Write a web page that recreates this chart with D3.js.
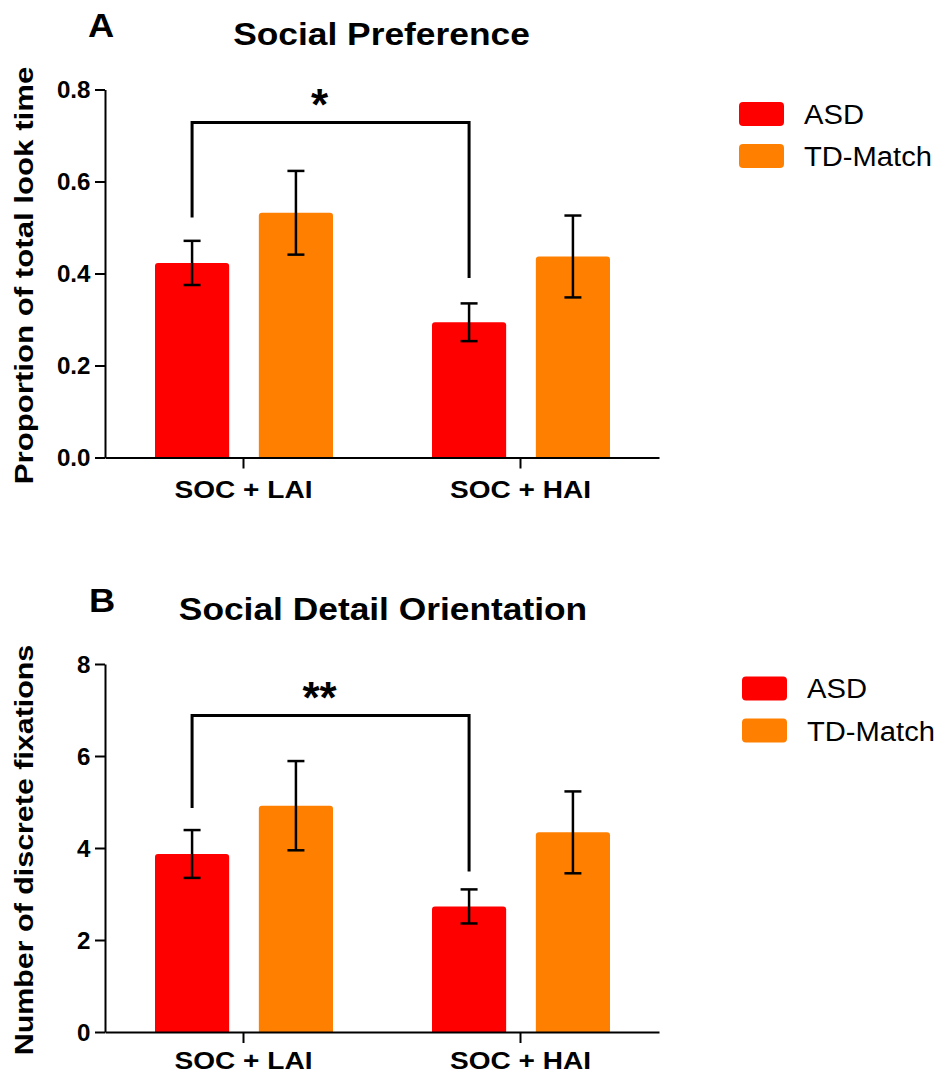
<!DOCTYPE html>
<html>
<head>
<meta charset="utf-8">
<script src="https://cdn.jsdelivr.net/npm/d3@7"></script>
<style>
  body { margin: 0; background: #fff; }
  text { font-family: "Liberation Sans", Arial, sans-serif; fill: #000; }
</style>
</head>
<body>
<script>
// Groups and categories (same for both panels)
const categories = ['SOC + LAI', 'SOC + HAI'];
const groups = ['ASD', 'TD-Match'];
const groupColors = ['#ff0000', '#ff8000'];

// Panel A: proportion of total look time (mean, SEM)
const prefASD = [0.423, 0.294];
const prefTD = [0.532, 0.437];
const prefASDErr = [0.048, 0.041];
const prefTDErr = [0.091, 0.089];
const prefTicks = [0, 0.2, 0.4, 0.6, 0.8];
// bracket: level, left leg end, right leg end
const prefBracket = [0.728, 0.522, 0.39];

// Panel B: number of discrete fixations (mean, SEM)
const fixASD = [3.87, 2.73];
const fixTD = [4.92, 4.34];
const fixASDErr = [0.52, 0.37];
const fixTDErr = [0.97, 0.89];
const fixTicks = [0, 2, 4, 6, 8];
const fixBracket = [6.88, 4.87, 3.49];

const W = 940, H = 1078;
const svg = d3.select('body').append('svg')
    .attr('width', W)
    .attr('height', H);

// text with a horizontal stretch (the source font is wider than Arial)
function label(g, str, x, y, size, weight, sx, anchor, rot) {
    return g.append('text')
        .attr('transform', `translate(${x},${y})` + (rot ? ` rotate(${rot})` : '') + ` scale(${sx},1)`)
        .attr('text-anchor', anchor || 'middle')
        .style('font-size', size + 'px')
        .style('font-weight', weight)
        .text(str);
}

function panel(p) {
    const g = svg.append('g').attr('transform', `translate(0,${p.dy})`);

    const x = d3.scaleBand().domain(categories).range([105, 659]);
    const xi = d3.scaleBand().domain(groups).range([50, 228]).paddingInner(0.286);
    const y = d3.scaleLinear().domain([0, p.max]).range([457.5, 89.5]);

    const means = [p.asd, p.td];
    const errs = [p.asdErr, p.tdErr];
    const bars = categories.flatMap((c, i) => groups.map((s, j) => ({
        cat: c, grp: s, j: j, v: means[j][i], e: errs[j][i]
    })));

    // bars
    g.selectAll('rect.bar')
        .data(bars)
        .join('rect')
        .attr('class', 'bar')
        .attr('x', d => x(d.cat) + xi(d.grp))
        .attr('y', d => y(d.v))
        .attr('width', xi.bandwidth())
        .attr('height', d => y(0) - y(d.v) + 3)
        .attr('rx', 3)
        .attr('fill', d => groupColors[d.j]);

    // white out the rounded bottom below the axis
    g.append('rect')
        .attr('x', 106).attr('y', y(0) + 1)
        .attr('width', 560).attr('height', 6)
        .attr('fill', '#fff');

    // error bars
    const cx = d => x(d.cat) + xi(d.grp) + xi.bandwidth() / 2;
    const eb = g.selectAll('g.err')
        .data(bars)
        .join('g')
        .attr('class', 'err')
        .attr('stroke', '#000')
        .attr('stroke-width', 2.5);
    eb.append('line')
        .attr('x1', cx).attr('x2', cx)
        .attr('y1', d => y(d.v + d.e)).attr('y2', d => y(d.v - d.e));
    eb.append('line')
        .attr('x1', d => cx(d) - 8.5).attr('x2', d => cx(d) + 8.5)
        .attr('y1', d => y(d.v + d.e)).attr('y2', d => y(d.v + d.e));
    eb.append('line')
        .attr('x1', d => cx(d) - 8.5).attr('x2', d => cx(d) + 8.5)
        .attr('y1', d => y(d.v - d.e)).attr('y2', d => y(d.v - d.e));

    // y axis
    const ya = g.append('g')
        .attr('transform', 'translate(105,0)')
        .call(d3.axisLeft(y).tickValues(p.ticks).tickFormat(p.fmt).tickSize(10).tickSizeOuter(0));
    ya.selectAll('path, line').attr('stroke', '#000').attr('stroke-width', 2);
    ya.selectAll('text')
        .attr('x', null).attr('dy', '0.36em')
        .attr('transform', 'translate(-14.5,0) scale(1.05,1)')
        .style('font-size', '23px')
        .style('font-weight', 'bold')
        .style('font-family', '"Liberation Sans", Arial, sans-serif');

    // x axis
    const xa = g.append('g')
        .attr('transform', `translate(0,${y(0)})`)
        .call(d3.axisBottom(x).tickSize(11).tickSizeOuter(0));
    xa.selectAll('path, line').attr('stroke', '#000').attr('stroke-width', 2);
    xa.selectAll('text')
        .attr('y', null).attr('dy', null)
        .attr('transform', `translate(0,${p.catY}) scale(1.22,1)`)
        .style('font-size', '23px')
        .style('font-weight', 'bold')
        .style('font-family', '"Liberation Sans", Arial, sans-serif');

    // significance bracket between the two ASD bars
    const bl = x(categories[0]) + xi(groups[0]) + xi.bandwidth() / 2;
    const br = x(categories[1]) + xi(groups[0]) + xi.bandwidth() / 2;
    const [lvl, legL, legR] = p.bracket;
    g.append('path')
        .attr('d', `M${bl},${y(legL)}V${y(lvl)}H${br}V${y(legR)}`)
        .attr('fill', 'none')
        .attr('stroke', '#000')
        .attr('stroke-width', 3);
    label(g, p.stars, (bl + br) / 2 - 11, y(lvl) - 2.5, 44, 'bold', 1.0);

    // titles
    label(g, p.letter, p.letterX, 37, 33, 'bold', 1.1);
    label(g, p.title, p.titleX, 45, 31, 'bold', 1.14);
    label(g, p.ylabel, 33, (y(0) + y(p.max)) / 2 + 2, 26, 'bold', p.ySx, 'middle', -90);

    // legend
    groups.forEach((s, j) => {
        g.append('rect')
            .attr('x', 739 + p.legDx).attr('y', 102 + j * 42)
            .attr('width', 45).attr('height', 24)
            .attr('rx', 4)
            .attr('fill', groupColors[j]);
        label(g, s, 804 + p.legDx, 123.5 + j * 42.5, 27, 'normal', 1.08, 'start');
    });
}

panel({
    dy: 0, max: 0.8, ticks: prefTicks, fmt: d3.format('.1f'),
    asd: prefASD, td: prefTD, asdErr: prefASDErr, tdErr: prefTDErr,
    bracket: prefBracket, stars: '*',
    letter: 'A', letterX: 101, title: 'Social Preference', titleX: 381.5,
    ylabel: 'Proportion of total look time', ySx: 1.2,
    catY: 40, legDx: 0
});

panel({
    dy: 574.5, max: 8, ticks: fixTicks, fmt: d3.format('d'),
    asd: fixASD, td: fixTD, asdErr: fixASDErr, tdErr: fixTDErr,
    bracket: fixBracket, stars: '**',
    letter: 'B', letterX: 102, title: 'Social Detail Orientation', titleX: 383,
    ylabel: 'Number of discrete fixations', ySx: 1.17,
    catY: 37, legDx: 3
});
</script>
</body>
</html>
